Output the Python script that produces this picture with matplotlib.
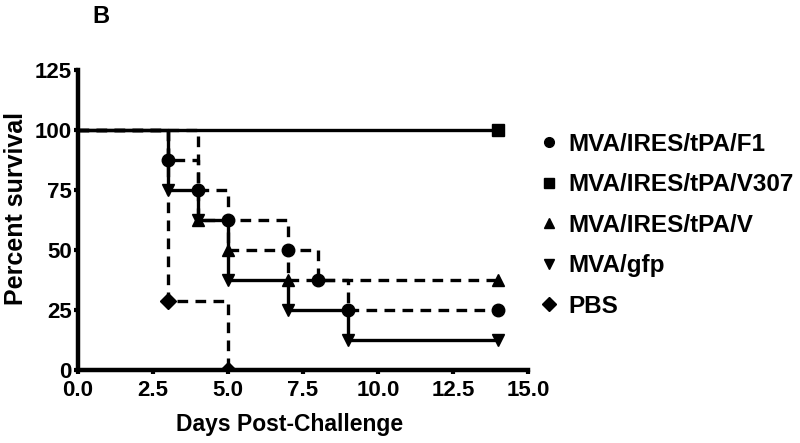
import matplotlib
matplotlib.use("Agg")
import matplotlib.pyplot as plt
from matplotlib.lines import Line2D

plt.rcParams['font.family'] = ['Liberation Sans', 'DejaVu Sans']
plt.rcParams['font.weight'] = 'bold'

labels = ["MVA/IRES/tPA/F1", "MVA/IRES/tPA/V307", "MVA/IRES/tPA/V", "MVA/gfp", "PBS"]
f1_t = [0, 3, 4, 5, 7, 8, 9, 14]
f1_s = [100, 87.5, 75, 62.5, 50, 37.5, 25, 25]
v307_t = [0, 14]
v307_s = [100, 100]
v_t = [0, 4, 5, 7, 14]
v_s = [100, 62.5, 50, 37.5, 37.5]
gfp_t = [0, 3, 4, 5, 7, 9, 14]
gfp_s = [100, 75, 62.5, 37.5, 25, 12.5, 12.5]
pbs_t = [0, 3, 5]
pbs_s = [100, 28.6, 0]

xticks = [0.0, 2.5, 5.0, 7.5, 10.0, 12.5, 15.0]
yticks = [0, 25, 50, 75, 100, 125]

series = [
    (f1_t, f1_s, 'o', 'dashed', 9),
    (v307_t, v307_s, 's', 'solid', 9),
    (v_t, v_s, '^', 'dashed', 9),
    (gfp_t, gfp_s, 'v', 'solid', 9),
    (pbs_t, pbs_s, 'D', 'dashed', 8),
]

fig = plt.figure(figsize=(8.0, 4.43), dpi=100)
ax = fig.add_axes([0.0975, 0.1648, 0.5625, 0.6772])

lw = 2.4
for t, s, m, ls, ms in series:
    line, = ax.step(t, s, where='post', color='black', lw=lw, solid_capstyle='butt')
    if ls == 'dashed':
        line.set_dashes([3.2, 2.2])
    ax.plot(t[1:], s[1:], linestyle='none', marker=m, color='black', markersize=ms)

ax.set_xlim(0, 15)
ax.set_ylim(0, 125)
ax.set_xticks(xticks)
ax.set_xticklabels([f"{v:.1f}" for v in xticks])
ax.set_yticks(yticks)
for sp in ['top', 'right']:
    ax.spines[sp].set_visible(False)
for sp in ['left', 'bottom']:
    ax.spines[sp].set_linewidth(3.2)
ax.tick_params(axis='both', direction='out', length=3, width=3, labelsize=16)
ax.tick_params(axis='x', pad=4.5)
ax.tick_params(axis='y', pad=1.5)
for lab in ax.get_xticklabels() + ax.get_yticklabels():
    lab.set_fontweight('bold')
ax.set_xlabel("Days Post-Challenge", fontsize=16.5, fontweight='bold')
ax.set_ylabel("Percent survival", fontsize=18, fontweight='bold')
ax.xaxis.set_label_coords(0.471, -0.143)
ax.yaxis.set_label_coords(-0.11, 0.537)

handles = [Line2D([], [], linestyle='none', marker=m, color='black', markersize=7)
           for _, _, m, _, _ in series]
ax.legend(handles, labels, loc='upper left', bbox_to_anchor=(1.03, 0.79), frameon=False,
          prop={'size': 17.5, 'weight': 'bold'}, handlelength=0.6, handletextpad=0.5,
          labelspacing=0.72, borderaxespad=0, borderpad=0)

fig.text(0.116, 0.988, "B", fontsize=17, fontweight='bold', va='top', ha='left')

fig.savefig("out.png", dpi=100)
